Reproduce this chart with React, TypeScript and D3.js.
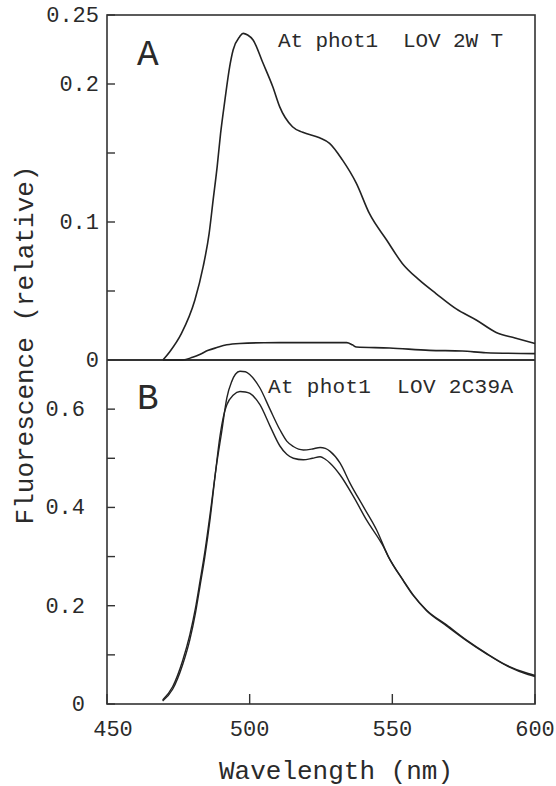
import React from "react";
import * as d3 from "d3";

// ---- Data ----
const wlA1 = [469.6, 472, 476.1, 480.8, 483.7, 485.8, 487.2, 488.6, 489.8, 491.3, 493, 494.2, 496.5, 497.7, 499.3, 501.2, 504.7, 508.1, 510.5, 515, 518.6, 524.5, 528, 532.5, 537.4, 542, 548, 553.5, 559.4, 565.4, 572.4, 579.4, 586.4, 593, 600];
const fA1 = [0, 0.006, 0.0193, 0.0435, 0.0676, 0.0918, 0.116, 0.14, 0.164, 0.188, 0.2126, 0.2246, 0.2343, 0.2367, 0.2355, 0.2319, 0.215, 0.198, 0.1836, 0.169, 0.165, 0.161, 0.157, 0.145, 0.128, 0.106, 0.087, 0.07, 0.058, 0.048, 0.037, 0.029, 0.02, 0.016, 0.012];

const wlA2 = [469.6, 476.6, 480, 482.5, 485.5, 488.5, 492, 496.5, 505, 518.6, 534, 536, 537.4, 549, 563, 574.5, 582.8, 600];
const fA2 = [0, 0.0, 0.002, 0.004, 0.007, 0.009, 0.011, 0.012, 0.0125, 0.0126, 0.0126, 0.011, 0.0094, 0.0087, 0.007, 0.0065, 0.0053, 0.0046];

const wlB1 = [469.5, 473, 476.5, 479, 481, 482.6, 484.3, 486.1, 488.4, 490.2, 492, 493.7, 495, 496.6, 498.5, 500.1, 503.6, 507.1, 510.6, 513, 515.3, 518.8, 522, 524.7, 526.5, 528.2, 531.7, 535.2, 539.9, 544.5, 548.6, 553.8, 557.3, 562, 569, 576, 583, 590, 597.6, 600];
const fB1 = [0.008, 0.035, 0.088, 0.14, 0.195, 0.25, 0.31, 0.385, 0.487, 0.554, 0.623, 0.656, 0.671, 0.677, 0.676, 0.67, 0.643, 0.6, 0.558, 0.535, 0.524, 0.517, 0.519, 0.522, 0.52, 0.514, 0.49, 0.449, 0.401, 0.354, 0.3, 0.252, 0.222, 0.191, 0.161, 0.13, 0.103, 0.079, 0.062, 0.058];

const wlB2 = [469.5, 473, 476.5, 479, 481, 482.6, 484.3, 486.1, 488, 489.6, 491, 492, 494.3, 496.6, 498.5, 500.1, 503.6, 507.1, 510.6, 513, 515.3, 518.8, 522, 524.7, 526.5, 528.2, 531.7, 536.4, 541, 546.9, 548.6, 553.8, 557.3, 562, 569, 576, 583, 590, 597.6, 600];
const fB2 = [0.006, 0.03, 0.08, 0.13, 0.185, 0.24, 0.3, 0.375, 0.47, 0.545, 0.59, 0.609, 0.629, 0.636, 0.635, 0.632, 0.609, 0.566, 0.525, 0.508, 0.5, 0.497, 0.5, 0.503, 0.498, 0.49, 0.466, 0.422, 0.374, 0.32, 0.3, 0.251, 0.221, 0.19, 0.159, 0.129, 0.102, 0.078, 0.06, 0.056];

const xTicks = [450, 500, 550, 600];
const xTickLabels = ["450", "500", "550", "600"];
const yTicksA = [0, 0.1, 0.2, 0.25];
const yTickLabelsA = ["0", "0.1", "0.2", "0.25"];
const yMinorA = [0.05, 0.15];
const yTicksB = [0, 0.2, 0.4, 0.6];
const yTickLabelsB = ["0", "0.2", "0.4", "0.6"];
const yMinorB = [0.1, 0.3, 0.5];

const titleA = "At phot1  LOV 2W T";
const titleB = "At phot1  LOV 2C39A";
const panelA = "A";
const panelB = "B";
const xLabel = "Wavelength (nm)";
const yLabel = "Fluorescence (relative)";

export default function App() {
  const W = 556, H = 786;
  const left = 107, right = 535;
  const topA = 15, midY = 360, botB = 704;
  const font = "'Liberation Mono', 'DejaVu Sans Mono', monospace";

  const x = d3.scaleLinear().domain([450, 600]).range([left, right]);
  const yA = d3.scaleLinear().domain([0, 0.25]).range([midY, topA]);
  const yB = d3.scaleLinear().domain([0, 0.7]).range([botB, midY]);

  const mk = (ys: d3.ScaleLinear<number, number>) =>
    d3.line<[number, number]>().x(d => x(d[0])).y(d => ys(d[1])).curve(d3.curveMonotoneX);
  const lineA = mk(yA);
  const lineB = mk(yB);
  const zip = (a: number[], b: number[]) => a.map((v, i) => [v, b[i]] as [number, number]);

  const stroke = "#222";
  const frame = "#333";
  const textCol = "#2a2a2a";

  return (
    <svg width={W} height={H} style={{ position: "absolute", left: 0, top: 0, background: "#fff" }}>
      <rect x={0} y={0} width={W} height={H} fill="#fff" />
      {/* Frames */}
      <rect x={left} y={topA} width={right - left} height={botB - topA} fill="none" stroke={frame} strokeWidth={1.6} />
      <line x1={left} x2={right} y1={midY} y2={midY} stroke={frame} strokeWidth={1.8} />

      {/* Y ticks A */}
      {yTicksA.concat(yMinorA).map((t, i) => (
        <line key={"ta" + i} x1={left} x2={left + 8} y1={yA(t)} y2={yA(t)} stroke={frame} strokeWidth={1.4} />
      ))}
      {yTicksA.map((t, i) => (
        <text key={"la" + i} x={left - 8} y={yA(t) + 7} textAnchor="end" fontFamily={font} fontSize={22} fill={textCol}>
          {yTickLabelsA[i]}
        </text>
      ))}
      {/* Y ticks B */}
      {yTicksB.concat(yMinorB).map((t, i) => (
        <line key={"tb" + i} x1={left} x2={left + 8} y1={yB(t)} y2={yB(t)} stroke={frame} strokeWidth={1.4} />
      ))}
      {yTicksB.map((t, i) => (
        <text key={"lb" + i} x={left - 22} y={yB(t) + 7} textAnchor="end" fontFamily={font} fontSize={22} fill={textCol}>
          {yTickLabelsB[i]}
        </text>
      ))}
      {/* X ticks */}
      {xTicks.map((t, i) => (
        <g key={"xt" + i}>
          <line x1={x(t)} x2={x(t)} y1={botB} y2={botB - 10} stroke={frame} strokeWidth={1.4} />
          <text x={x(t) + (i === 0 ? 6 : 0)} y={botB + 32} textAnchor="middle" fontFamily={font} fontSize={22} fill={textCol}>
            {xTickLabels[i]}
          </text>
        </g>
      ))}

      {/* Curves */}
      <path d={lineA(zip(wlA1, fA1)) || ""} fill="none" stroke={stroke} strokeWidth={1.6} />
      <path d={lineA(zip(wlA2, fA2)) || ""} fill="none" stroke={stroke} strokeWidth={1.6} />
      <path d={lineB(zip(wlB1, fB1)) || ""} fill="none" stroke={stroke} strokeWidth={1.4} />
      <path d={lineB(zip(wlB2, fB2)) || ""} fill="none" stroke={stroke} strokeWidth={1.4} />

      {/* Panel labels */}
      <text x={137} y={65} fontFamily={font} fontSize={36} fill={textCol}>{panelA}</text>
      <text x={137} y={409} fontFamily={font} fontSize={36} fill={textCol}>{panelB}</text>
      <text x={278} y={47} fontFamily={font} fontSize={21} fill={textCol} textLength={225} lengthAdjust="spacing" style={{ whiteSpace: "pre" }}>{titleA}</text>
      <text x={268} y={393} fontFamily={font} fontSize={21} fill={textCol} textLength={245} lengthAdjust="spacing" style={{ whiteSpace: "pre" }}>{titleB}</text>

      {/* Axis labels */}
      <text x={336} y={779} textAnchor="middle" fontFamily={font} fontSize={26} fill={textCol}>{xLabel}</text>
      <text transform={`translate(33,345) rotate(-90)`} textAnchor="middle" fontFamily={font} fontSize={26} fill={textCol}>{yLabel}</text>
    </svg>
  );
}
